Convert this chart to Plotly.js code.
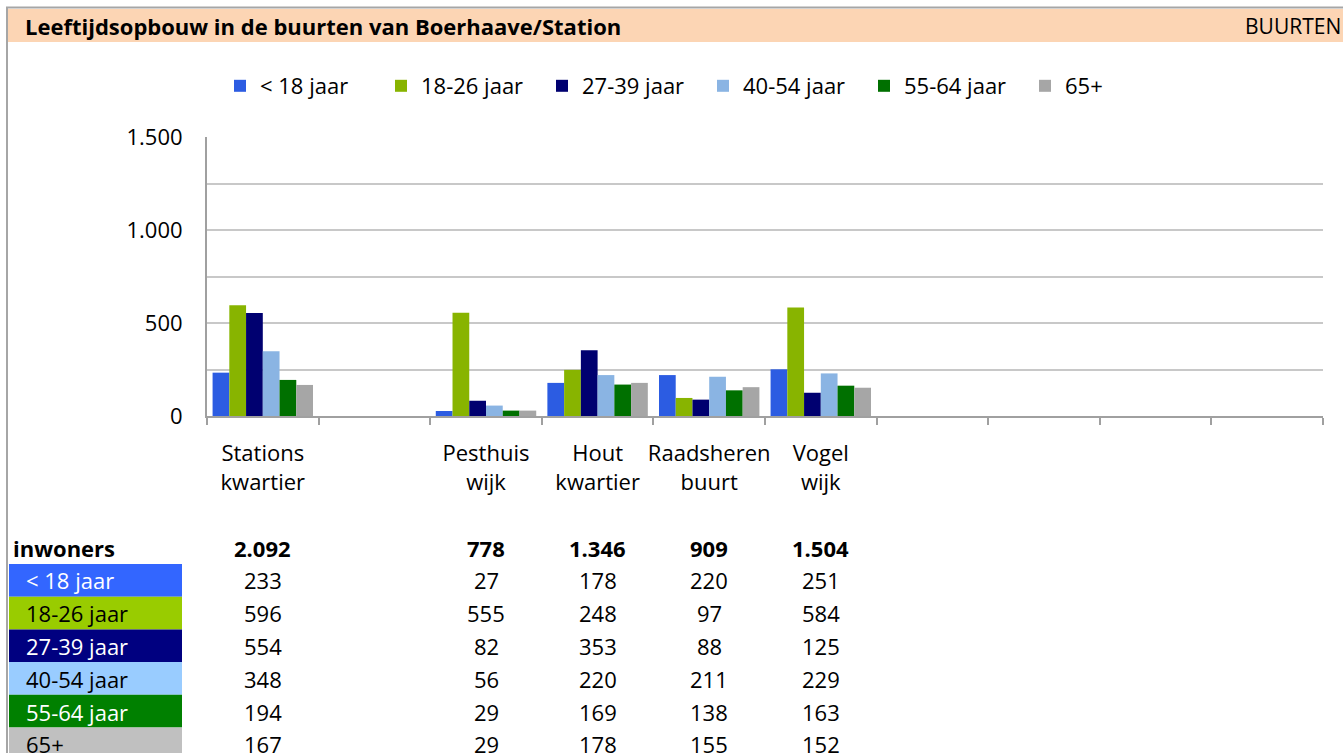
<!DOCTYPE html>
<html><head><meta charset="utf-8">
<script src="https://cdn.plot.ly/plotly-3.0.1.min.js"></script>
<style>html,body{margin:0;padding:0;background:#fff}#chart{width:1343px;height:753px}</style>
</head><body><div id="chart"></div>
<script>
// ---- data ----
const categories = ["Stations<br>kwartier", "\u200b", "Pesthuis<br>wijk", "Hout<br>kwartier", "Raadsheren<br>buurt", "Vogel<br>wijk", "\u200b\u200b", "\u200b\u200b\u200b", "\u200b\u200b\u200b\u200b", "\u200b\u200b\u200b\u200b\u200b"];
const seriesNames = ["< 18 jaar", "18-26 jaar", "27-39 jaar", "40-54 jaar", "55-64 jaar", "65+"];
const under18 = [233, null, 27, 178, 220, 251, null, null, null, null];
const age18_26 = [596, null, 555, 248, 97, 584, null, null, null, null];
const age27_39 = [554, null, 82, 353, 88, 125, null, null, null, null];
const age40_54 = [348, null, 56, 220, 211, 229, null, null, null, null];
const age55_64 = [194, null, 29, 169, 138, 163, null, null, null, null];
const age65plus = [167, null, 29, 178, 155, 152, null, null, null, null];
const inwoners = [2092, null, 778, 1346, 909, 1504, null, null, null, null];
const yTickVals = [0, 250, 500, 750, 1000, 1250, 1500];
const yTickText = ["0", "", "500", "", "1.000", "", "1.500"];
const chartTitle = "Leeftijdsopbouw in de buurten van Boerhaave/Station";
const sectionLabel = "BUURTEN";
const totalLabel = "inwoners";

// ---- styles ----
const barColors = ["#2C5CE2", "#88B400", "#000070", "#8AB4E3", "#007000", "#A6A6A6"];
const cellColors = ["#3366FF", "#99CC00", "#000080", "#99CCFF", "#008000", "#C0C0C0"];
const cellText = ["#FFFFFF", "#000000", "#FFFFFF", "#000000", "#FFFFFF", "#000000"];
const FONT = "'Open Sans', 'Noto Sans', sans-serif";
const FS = 22;

const W = 1343, H = 753, L = 207, R = 20, T = 137, B = 337;
const PW = W - L - R, PH = H - T - B;
const px = v => (v - L) / PW;
const py = v => (H - B - v) / PH;

const series = [under18, age18_26, age27_39, age40_54, age55_64, age65plus];
const traces = series.map((vals, i) => ({
  type: "bar", name: seriesNames[i], x: categories, y: vals,
  marker: {color: barColors[i], line: {width: 0}}, hoverinfo: "x+y"
}));

const fmt = n => n >= 1000 ? String(n).replace(/(\d)(?=(\d{3})+$)/g, "$1.") : String(n);

const shapes = [
  {type: "rect", xref: "paper", yref: "paper", x0: px(8), x1: px(1343), y0: py(42), y1: py(9), fillcolor: "#FCD5B4", line: {width: 0}, layer: "below"},
  {type: "line", xref: "paper", yref: "paper", x0: px(6), x1: px(1343), y0: py(7.5), y1: py(7.5), line: {color: "#A6A6A6", width: 2}},
  {type: "line", xref: "paper", yref: "paper", x0: px(7), x1: px(7), y0: py(7.5), y1: py(753), line: {color: "#A6A6A6", width: 2}}
];
const annotations = [
  {xref: "paper", yref: "paper", x: px(23), y: py(26), xanchor: "left", yanchor: "middle", showarrow: false, text: "<b>" + chartTitle + "</b>", font: {family: FONT, size: 22, color: "#000"}},
  {xref: "paper", yref: "paper", x: px(1343), y: py(26), xanchor: "right", yanchor: "middle", showarrow: false, text: sectionLabel, font: {family: FONT, size: 21, color: "#000"}},
  {xref: "paper", yref: "paper", x: px(11), y: py(548), xanchor: "left", yanchor: "middle", showarrow: false, text: "<b>" + totalLabel + "</b>", font: {family: FONT, size: FS, color: "#000"}}
];
const rowY = [580, 613, 646, 679, 712, 744];
const rowTop = 564, rowH = 32.7;
categories.forEach((c, j) => {
  if (inwoners[j] !== null) {
    annotations.push({xref: "x", yref: "paper", x: c, y: py(548), xanchor: "center", yanchor: "middle", showarrow: false, text: "<b>" + fmt(inwoners[j]) + "</b>", font: {family: FONT, size: FS, color: "#000"}});
  }
});
seriesNames.forEach((nm, i) => {
  shapes.push({type: "rect", xref: "paper", yref: "paper", x0: px(9), x1: px(182), y0: py(rowTop + (i + 1) * rowH), y1: py(rowTop + i * rowH), fillcolor: cellColors[i], line: {width: 0}});
  annotations.push({xref: "paper", yref: "paper", x: px(24), y: py(rowY[i]), xanchor: "left", yanchor: "middle", showarrow: false, text: nm, font: {family: FONT, size: FS, color: cellText[i]}});
  categories.forEach((c, j) => {
    if (series[i][j] !== null) {
      annotations.push({xref: "x", yref: "paper", x: c, y: py(rowY[i]), xanchor: "center", yanchor: "middle", showarrow: false, text: fmt(series[i][j]), font: {family: FONT, size: FS, color: "#000"}});
    }
  });
});

const layout = {
  width: W, height: H,
  margin: {l: L, r: R, t: T, b: B, pad: 0},
  paper_bgcolor: "#FFFFFF", plot_bgcolor: "#FFFFFF",
  font: {family: FONT, size: FS, color: "#000"},
  barmode: "group", bargap: 0.1, bargroupgap: 0,
  showlegend: true,
  legend: {orientation: "h", x: px(220), xanchor: "left", y: py(86), yanchor: "middle", font: {family: FONT, size: FS, color: "#000"}, entrywidth: 116, entrywidthmode: "pixels", bgcolor: "rgba(0,0,0,0)", traceorder: "normal"},
  xaxis: {type: "category", categoryorder: "array", categoryarray: categories, showgrid: false, showline: true, linecolor: "#A0A0A0", linewidth: 2, ticks: "outside", tickson: "boundaries", ticklen: 7, tickwidth: 2, tickcolor: "#A0A0A0", tickangle: 0, ticklabelstandoff: 17, tickfont: {family: FONT, size: FS, color: "#000"}, zeroline: false, fixedrange: true},
  yaxis: {range: [0, 1500], tickmode: "array", tickvals: yTickVals, ticktext: yTickText, showgrid: true, gridcolor: "#C8C8C8", gridwidth: 2, showline: true, linecolor: "#A0A0A0", linewidth: 2, ticks: "", ticklabelstandoff: 18, tickfont: {family: FONT, size: FS, color: "#000"}, zeroline: false, fixedrange: true},
  shapes: shapes, annotations: annotations
};
Plotly.newPlot("chart", traces, layout, {displayModeBar: false, staticPlot: true});
</script></body></html>
